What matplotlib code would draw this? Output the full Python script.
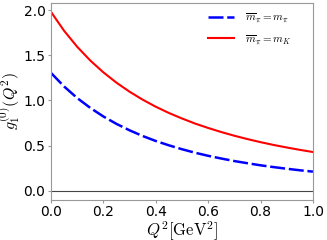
import matplotlib
matplotlib.use('Agg')
import matplotlib.pyplot as plt
import numpy as np

plt.rcParams['mathtext.fontset'] = 'cm'

# Q^2 grid in GeV^2 and the two curves
q2 = [0.00, 0.05, 0.10, 0.15, 0.20, 0.25, 0.30, 0.35, 0.40, 0.45, 0.50,
      0.55, 0.60, 0.65, 0.70, 0.75, 0.80, 0.85, 0.90, 0.95, 1.00]
g1_mpi = [1.305, 1.155, 1.027, 0.918, 0.823, 0.741, 0.670, 0.607, 0.552, 0.504, 0.461,
          0.422, 0.388, 0.358, 0.330, 0.306, 0.283, 0.263, 0.245, 0.228, 0.213]
g1_mk = [1.980, 1.771, 1.594, 1.442, 1.311, 1.197, 1.097, 1.009, 0.931, 0.862, 0.801,
         0.745, 0.696, 0.651, 0.610, 0.573, 0.539, 0.508, 0.480, 0.454, 0.430]

xticks = [0.0, 0.2, 0.4, 0.6, 0.8, 1.0]
yticks = [0.0, 0.5, 1.0, 1.5, 2.0]

fig = plt.figure(figsize=(3.27, 2.4), dpi=100)
ax = fig.add_axes([0.156, 0.167, 0.801, 0.821])

ax.axhline(0, color='#444444', lw=0.8)
ax.plot(q2, g1_mpi, color='blue', lw=1.8, dashes=(6, 1.5),
        label=r'$\overline{m}_\pi = m_\pi$')
ax.plot(q2, g1_mk, color='red', lw=1.5, label=r'$\overline{m}_\pi = m_K$')

ax.set_xlim(0, 1)
ax.set_ylim(-0.1, 2.08)
ax.set_xticks(xticks)
ax.set_yticks(yticks)
ax.tick_params(labelsize=10, color='#999999', length=2, pad=2)
for s in ax.spines.values():
    s.set_color('#999999')

ax.set_xlabel(r'$Q^2[\mathrm{GeV}^2]$', fontsize=12, labelpad=0)
ax.set_ylabel(r'$g_1^{(0)}(Q^2)$', fontsize=11.5, labelpad=1)
ax.legend(loc='upper right', bbox_to_anchor=(0.954, 1.0), frameon=False,
          fontsize=8, borderaxespad=0.4, handlelength=2.4, handletextpad=1.0,
          labelspacing=0.7)

plt.savefig('out.png', dpi=100)
